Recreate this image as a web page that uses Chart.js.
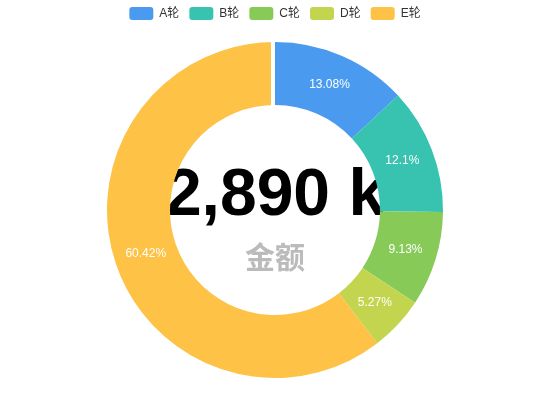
<!DOCTYPE html>
<html>
<head>
<meta charset="utf-8">
<script src="https://cdn.jsdelivr.net/npm/chart.js@4"></script>
<style>
  html, body { margin: 0; padding: 0; background: #fff; }
  #wrap { width: 550px; height: 420px; }
</style>
</head>
<body>
<div id="wrap"><canvas id="canvas-1"></canvas></div>
<script>
// rounds and their share of the total (percent)
var rounds = ['A轮', 'B轮', 'C轮', 'D轮', 'E轮'];
var shares = [13.08, 12.1, 9.13, 5.27, 60.42];
var colors = ['#4a9bef', '#37c3b0', '#88ca58', '#c3d54f', '#fdc246'];
var totalText = '2,890 k';
var totalLabel = '金额';

var FONT = '"Helvetica Neue", Arial, "Liberation Sans", "Noto Sans CJK SC", sans-serif';

// big number + caption in the hole, drawn under the ring
var centerText = {
  id: 'centerText',
  beforeDatasetsDraw: function (chart) {
    var arc = chart.getDatasetMeta(0).data[0];
    if (!arc) return;
    var ctx = chart.ctx;
    ctx.save();
    ctx.textAlign = 'center';
    ctx.textBaseline = 'alphabetic';
    ctx.fillStyle = '#000';
    ctx.font = 'bold 66px ' + FONT;
    ctx.fillText(totalText, arc.x, arc.y + 5);
    ctx.fillStyle = '#bbbbbb';
    ctx.font = 'bold 30px ' + FONT;
    ctx.fillText(totalLabel, arc.x, arc.y + 58);
    ctx.restore();
  }
};

// percent labels in each slice + the thin white gap at 12 o'clock
var sliceLabels = {
  id: 'sliceLabels',
  afterDatasetsDraw: function (chart) {
    var meta = chart.getDatasetMeta(0);
    var ctx = chart.ctx;
    ctx.save();
    ctx.fillStyle = '#fff';
    ctx.font = '12px ' + FONT;
    ctx.textAlign = 'center';
    ctx.textBaseline = 'middle';
    meta.data.forEach(function (a, i) {
      var mid = (a.startAngle + a.endAngle) / 2;
      var r = (a.innerRadius + a.outerRadius) / 2;
      ctx.fillText(shares[i] + '%', a.x + Math.cos(mid) * r, a.y + Math.sin(mid) * r);
    });
    var first = meta.data[0];
    ctx.fillRect(first.x - 4, first.y - first.outerRadius - 2, 4, first.outerRadius - first.innerRadius + 4);
    ctx.restore();
  }
};

var doughnutChart = new Chart(document.getElementById('canvas-1'), {
  type: 'doughnut',
  data: {
    labels: rounds,
    datasets: [{
      data: shares,
      backgroundColor: colors,
      hoverBackgroundColor: colors,
      borderWidth: 0,
      radius: 168
    }]
  },
  options: {
    responsive: true,
    maintainAspectRatio: false,
    animation: false,
    cutout: '62.5%',
    layout: { padding: { top: -3, bottom: 30 } },
    plugins: {
      legend: {
        position: 'top',
        labels: {
          boxWidth: 24,
          boxHeight: 13,
          useBorderRadius: true,
          borderRadius: 3,
          padding: 10,
          color: '#333',
          font: { size: 12, family: FONT }
        }
      },
      tooltip: { enabled: false }
    }
  },
  plugins: [centerText, sliceLabels]
});
</script>
</body>
</html>
